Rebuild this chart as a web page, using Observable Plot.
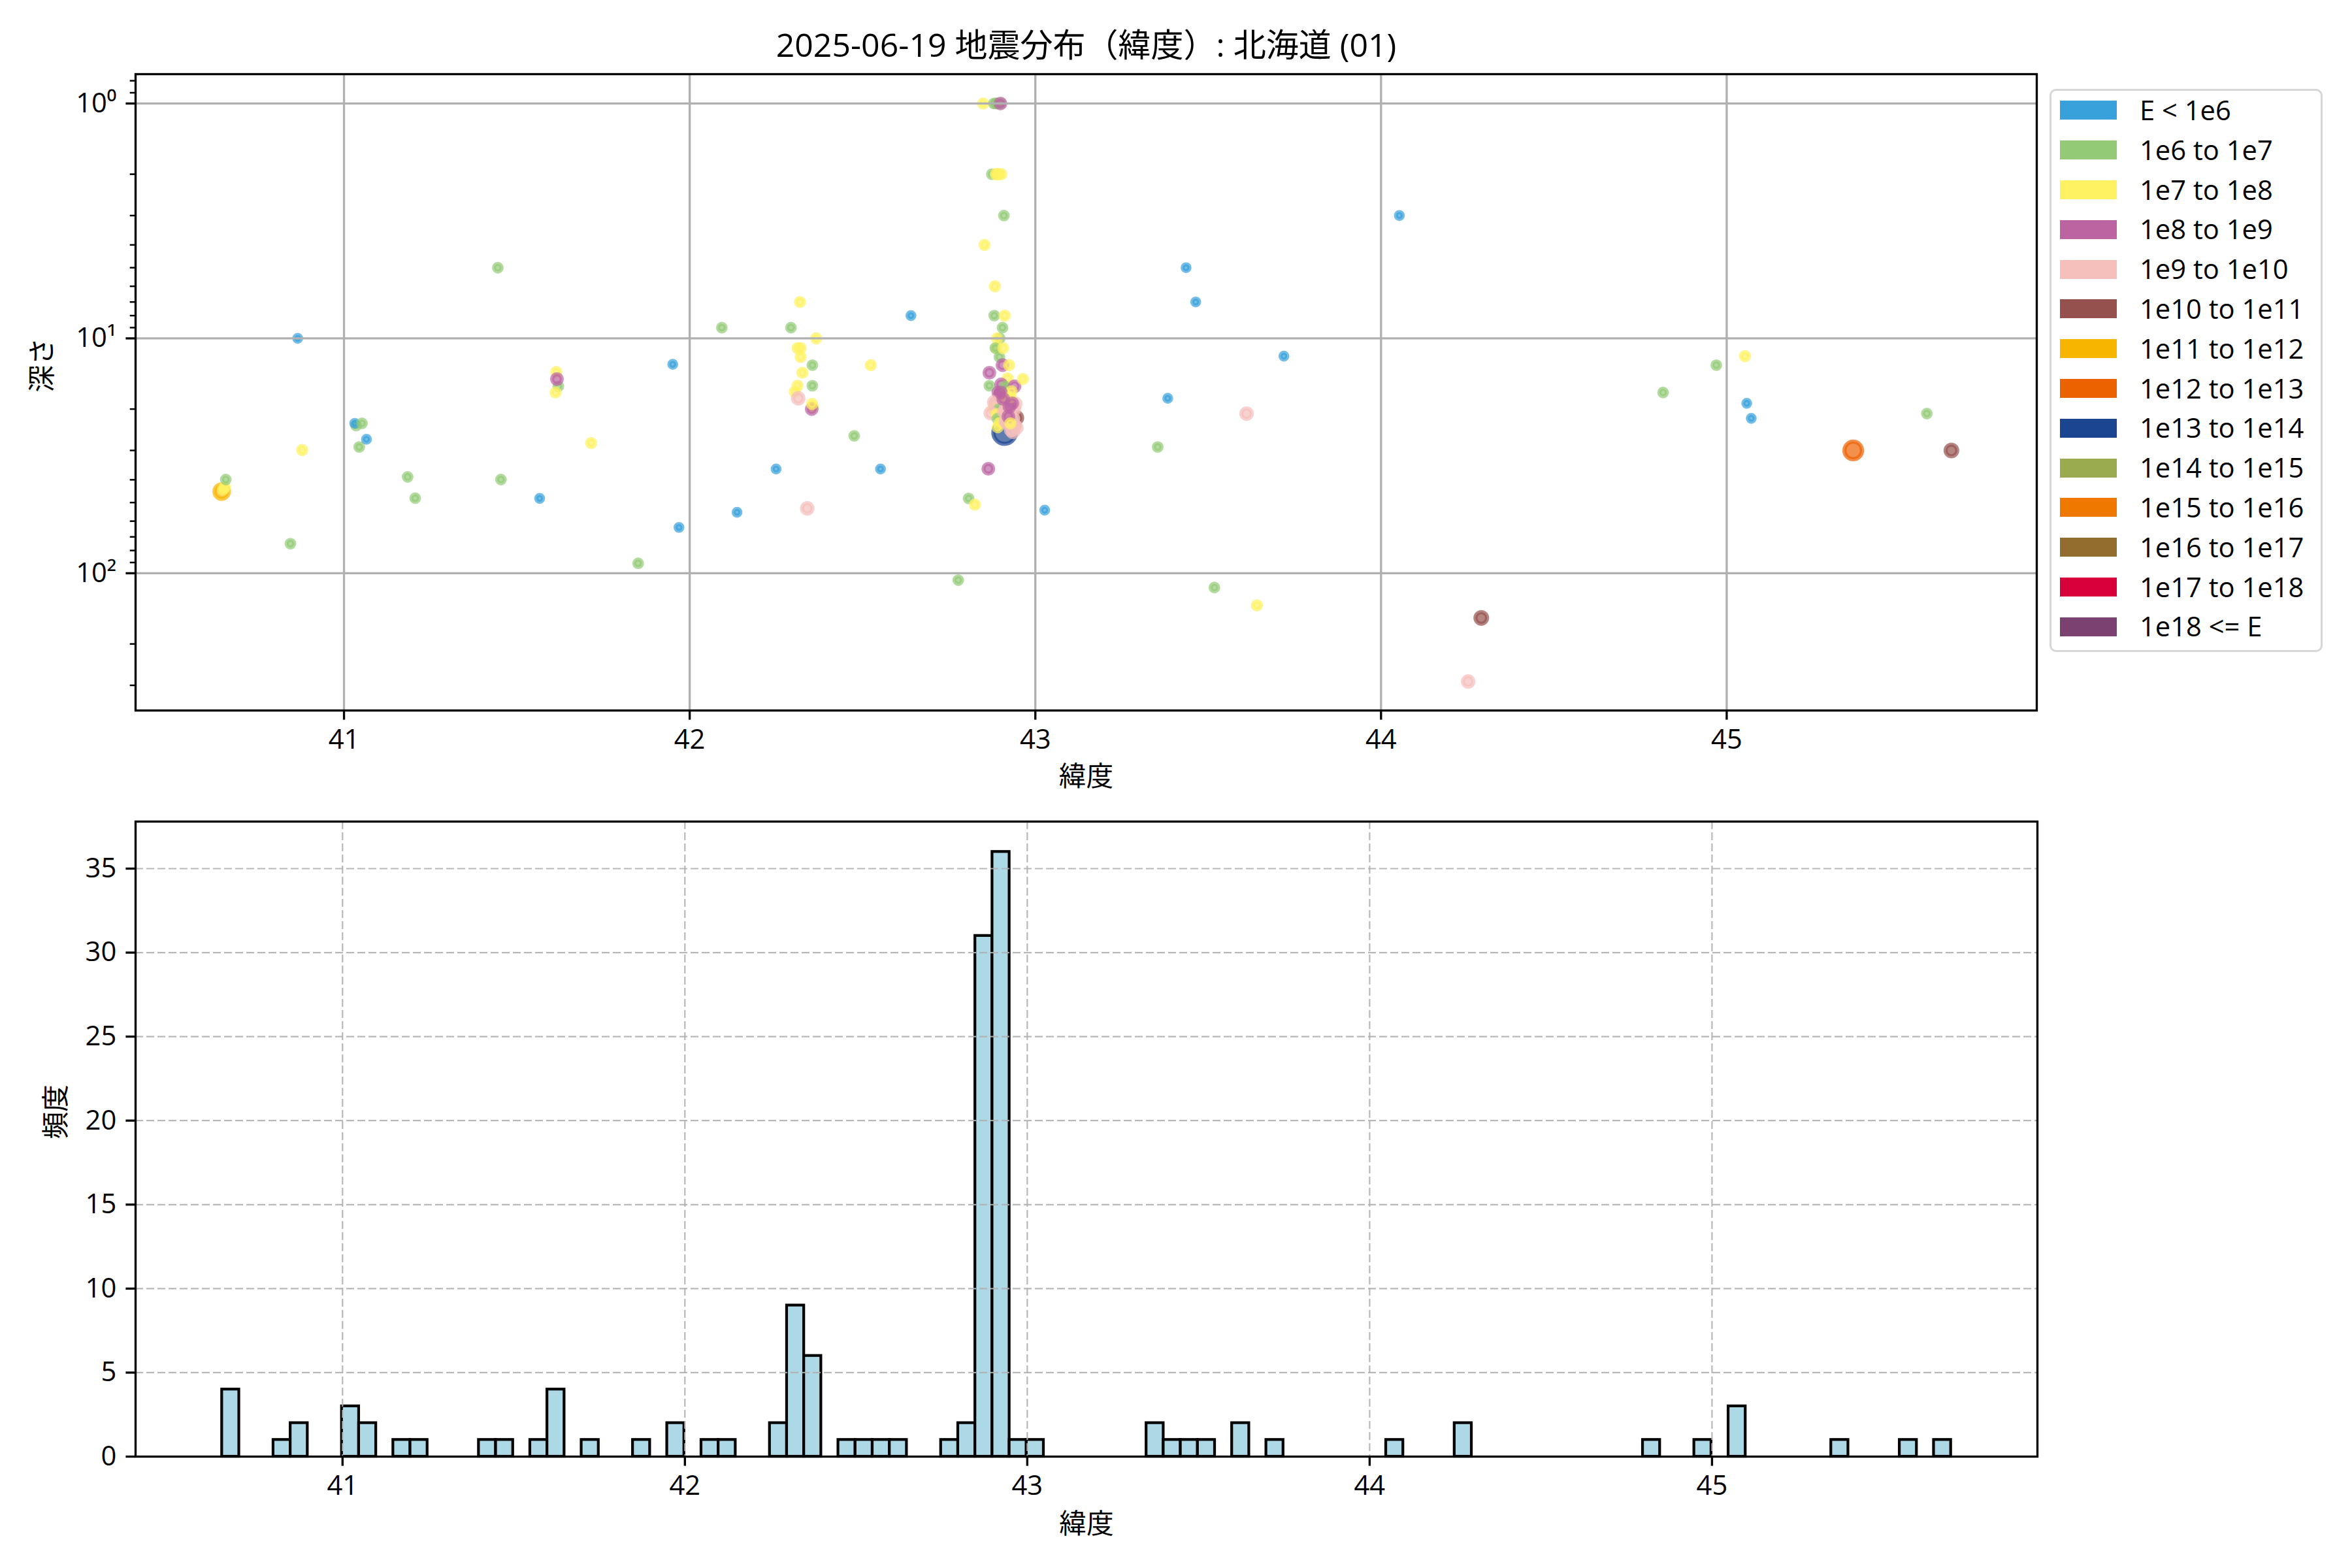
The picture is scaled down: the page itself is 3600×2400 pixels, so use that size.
<!DOCTYPE html>
<html>
<head>
<meta charset="utf-8">
<script src="https://cdn.jsdelivr.net/npm/d3@7"></script>
<script src="https://cdn.jsdelivr.net/npm/@observablehq/plot@0.6"></script>
<style>
  body { margin: 0; background: white; }
  #fig { position: relative; width: 3600px; height: 2400px; background: white; overflow: hidden;
         font-family: "Open Sans", "Noto Sans CJK JP", sans-serif; color: black; }
  .abs { position: absolute; }
</style>
</head>
<body>
<div id="fig"></div>
<script>
// ---------------- DATA ----------------
const titleText = "2025-06-19 地震分布（緯度）: 北海道 (01)";
const xLabel = "緯度";
const yLabelTop = "深さ";
const yLabelHist = "頻度";

// energy classes (legend)
const classLabels = ["E < 1e6", "1e6 to 1e7", "1e7 to 1e8", "1e8 to 1e9", "1e9 to 1e10", "1e10 to 1e11",
  "1e11 to 1e12", "1e12 to 1e13", "1e13 to 1e14", "1e14 to 1e15", "1e15 to 1e16", "1e16 to 1e17",
  "1e17 to 1e18", "1e18 <= E"];
const classColors = ["#38A1DB", "#93CA76", "#FFF262", "#BC64A2", "#F5BFBC", "#95514D",
  "#F8B500", "#EC6100", "#1B4590", "#9AAA4F", "#EE7800", "#936D2D", "#D7003A", "#7A4171"];

// events: latitude, depth (km), energy class index
const lat = [
  42.911,
  40.646, 40.655, 40.650, 40.658,
  40.845, 40.866, 40.879,
  41.035, 41.031, 41.044, 41.052, 41.065,
  41.184, 41.206, 41.445, 41.454, 41.566,
  41.614, 41.620, 41.612, 41.616,
  41.715, 41.851, 41.951, 41.969, 42.093, 42.137,
  42.250, 42.293,
  42.319, 42.312, 42.321, 42.321, 42.326, 42.312, 42.304, 42.314, 42.340,
  42.366, 42.355, 42.355, 42.356, 42.353, 42.354,
  42.476, 42.524, 42.552, 42.640, 42.777, 42.807, 42.825,
  42.849, 42.885, 42.880, 42.888,
  42.874, 42.890, 42.886, 42.894,
  42.853, 42.883, 42.881, 42.897, 42.889,
  42.887, 42.884, 42.896, 42.867, 42.867,
  42.893, 42.897, 42.892, 42.885, 42.878,
  42.881, 42.895, 42.871, 42.888, 42.890, 42.896, 42.891, 42.864,
  42.900, 42.899, 42.902, 42.909,
  42.911, 42.905, 42.907, 42.905, 42.924, 42.920,
  42.945,
  42.915, 42.925, 42.935, 42.940, 42.920, 42.930, 42.945, 42.910, 42.938, 42.915, 42.935, 42.942,
  42.918, 42.925, 42.922, 42.928,
  42.901, 42.912, 42.940, 42.931, 42.900, 42.929, 42.907, 42.933,
  42.964, 43.027, 43.354, 43.383, 43.436, 43.464, 43.518, 43.611, 43.641, 43.719,
  44.053, 44.252, 44.290, 44.816, 44.970, 45.053, 45.058, 45.071, 45.366, 45.579, 45.650
];
const depth = [
  25.2,
  44.9, 43.0, 44.0, 39.9,
  74.8, 10.0, 29.9,
  23.5, 23.0, 29.0, 23.0, 26.9,
  38.9, 47.9, 5.0, 39.9, 48.0,
  13.9, 16.0, 17.0, 14.9,
  27.9, 90.7, 12.9, 63.8, 9.0, 55.0,
  36.0, 9.0,
  7.0, 11.0, 11.0, 12.0, 14.0, 15.9, 16.9, 18.0, 52.9,
  10.0, 13.0, 15.9, 19.6, 20.0, 19.0,
  26.0, 13.0, 36.0, 8.0, 107, 48, 51,
  1.0, 1.0, 1.0, 1.0,
  2.0, 2.0, 2.0, 2.0,
  4.0, 6.0, 8.0, 10.0, 10.0,
  11.0, 11.0, 12.0, 14.0, 15.9,
  17.0, 17.5, 19.5, 19.0, 20.0,
  18.7, 20.0, 20.8, 21.0, 22.0, 23.0, 23.9, 35.9,
  1.0, 1.0, 2.0, 3.0,
  8.0, 9.0, 11.0, 13.0, 13.0, 14.8,
  21.8,
  20.0, 21.0, 22.0, 23.5, 23.0, 24.5, 24.0, 20.5, 20.0, 22.5, 25.0, 19.0,
  18.0, 19.5, 21.5, 23.0,
  15.7, 16.0, 16.0, 16.8, 17.0, 17.8, 18.1, 18.9,
  14.9, 53.9, 29, 18, 5.0, 7.0, 115, 20.9, 137, 11.9,
  3.0, 289, 155, 17, 13, 11.9, 18.9, 21.9, 30, 20.9, 30
];
const energyClass = [
  8,
  6, 2, 2, 1,
  1, 0, 2,
  1, 0, 1, 1, 0,
  1, 1, 1, 1, 0,
  2, 1, 2, 3,
  2, 1, 0, 0, 1, 0,
  0, 1,
  2, 2, 2, 2, 2, 2, 2, 4, 4,
  2, 1, 1, 2, 3, 2,
  1, 2, 0, 0, 1, 1, 2,
  2, 1, 1, 1,
  1, 2, 2, 2,
  2, 2, 1, 1, 2,
  2, 1, 1, 3, 1,
  3, 3, 2, 4, 2,
  4, 1, 4, 2, 1, 2, 2, 3,
  1, 3, 2, 1,
  2, 1, 2, 3, 2, 2,
  5,
  4, 4, 4, 4, 4, 4, 4, 4, 4, 4, 4, 4,
  2, 3, 3, 2,
  3, 1, 3, 2, 3, 2, 3, 3,
  2, 0, 1, 0, 0, 0, 1, 4, 2, 0,
  0, 4, 5, 1, 1, 2, 0, 0, 7, 1, 5
];

// histogram (latitude bins)
const binStart = 40.648;
const binWidth = 0.05;
const histBin = [0, 3, 4, 7, 8, 10, 11, 15, 16, 18, 19, 21, 24, 26, 28, 29, 32, 33, 34, 36, 37, 38, 39,
  42, 43, 44, 45, 46, 47, 54, 55, 56, 57, 59, 61, 68, 72, 83, 86, 88, 94, 98, 100];
const histCount = [4, 1, 2, 3, 2, 1, 1, 1, 1, 1, 4, 1, 1, 2, 1, 1, 2, 9, 6, 1, 1, 1, 1,
  1, 2, 31, 36, 1, 1, 2, 1, 1, 1, 2, 1, 1, 2, 1, 1, 3, 1, 1, 1];

// ticks
const latTicks = [41, 42, 43, 44, 45];
const depthTicks = [1, 10, 100];
const depthTickLabels = ["10⁰", "10¹", "10²"];
const countTicks = [0, 5, 10, 15, 20, 25, 30, 35];

(function () {
// ---------------- STYLE ----------------
const FONT = '"Open Sans", "Noto Sans CJK JP", sans-serif';
const FS = 41.7;
const classRadius = [5.2, 5.8, 6.2, 7.4, 8.0, 8.9, 11.1, 13.5, 17.2, 19, 21, 23, 25, 27];
const LW = 3.33;

const points = lat.map((x, i) => ({lat: x, depth: depth[i], cls: energyClass[i]}));
const hist = histBin.map((b, i) => ({x1: binStart + b * binWidth, x2: binStart + (b + 1) * binWidth, count: histCount[i]}));

const minorTicks = [];
for (let k = -1; k <= 2; k++) for (let m = 2; m <= 9; m++) {
  const v = m * Math.pow(10, k);
  if (v >= 0.75 && v <= 384) minorTicks.push(v);
}

const fig = document.getElementById("fig");

// ---------------- TOP: scatter ----------------
const topPlot = Plot.plot({
  width: 3600, height: 1230,
  marginTop: 113, marginLeft: 207, marginRight: 483, marginBottom: 143,
  style: {background: "transparent", fontFamily: FONT, fontSize: FS + "px", color: "black", overflow: "visible"},
  x: {domain: [40.397, 45.897]},
  y: {type: "log", domain: [0.75, 384], reverse: true},
  color: {type: "ordinal", domain: d3.range(classLabels.length), range: classColors},
  r: {type: "identity"},
  marks: [
    Plot.dot(points, {x: "lat", y: "depth", r: d => classRadius[d.cls], fill: "cls", stroke: "cls",
      fillOpacity: 0.7, strokeOpacity: 0.7, strokeWidth: 6.25, sort: null}),
    Plot.gridX(latTicks, {stroke: "#b0b0b0", strokeOpacity: 1, strokeWidth: LW}),
    Plot.gridY(depthTicks, {stroke: "#b0b0b0", strokeOpacity: 1, strokeWidth: LW}),
    Plot.frame({stroke: "black", strokeWidth: LW}),
    Plot.axisX(latTicks, {tickSize: 14.6, tickPadding: 14.6, strokeWidth: LW, label: null, tickFormat: d => String(d), fontSize: FS}),
    Plot.axisY(depthTicks, {tickSize: 14.6, tickPadding: 14.6, strokeWidth: LW, label: null,
      tickFormat: d => depthTickLabels[depthTicks.indexOf(d)], fontSize: FS}),
    Plot.axisY(minorTicks, {tickSize: 8.3, strokeWidth: 2.5, label: null, tickFormat: () => ""}),
    Plot.text([titleText], {frameAnchor: "top", dy: -43, fontSize: 50, lineAnchor: "middle"}),
    Plot.text([yLabelTop], {frameAnchor: "left", dx: -141.5, rotate: -90, lineAnchor: "middle", fontSize: FS}),
    Plot.text([xLabel], {frameAnchor: "bottom", dy: 102, lineAnchor: "middle", fontSize: FS})
  ]
});
topPlot.style.position = "absolute"; topPlot.style.left = "0px"; topPlot.style.top = "0px";
fig.appendChild(topPlot);

// ---------------- BOTTOM: histogram ----------------
const histPlot = Plot.plot({
  width: 3600, height: 1170,
  marginTop: 27, marginLeft: 207, marginRight: 482, marginBottom: 171,
  style: {background: "transparent", fontFamily: FONT, fontSize: FS + "px", color: "black", overflow: "visible"},
  x: {domain: [40.3955, 45.9505]},
  y: {domain: [0, 37.8]},
  marks: [
    Plot.rect(hist, {x1: "x1", x2: "x2", y1: 0, y2: "count", fill: "#ADD8E6", stroke: "black", strokeWidth: 4.2, inset: 0}),
    Plot.gridX(latTicks, {stroke: "#b0b0b0", strokeOpacity: 0.9, strokeWidth: 2.2, strokeDasharray: "12,5"}),
    Plot.gridY(countTicks.slice(1), {stroke: "#b0b0b0", strokeOpacity: 0.9, strokeWidth: 2.2, strokeDasharray: "12,5"}),
    Plot.frame({stroke: "black", strokeWidth: LW}),
    Plot.axisX(latTicks, {tickSize: 14.6, tickPadding: 14.6, strokeWidth: LW, label: null, tickFormat: d => String(d), fontSize: FS}),
    Plot.axisY(countTicks, {tickSize: 14.6, tickPadding: 14.6, strokeWidth: LW, label: null, tickFormat: d => String(d), fontSize: FS}),
    Plot.text([yLabelHist], {frameAnchor: "left", dx: -121, rotate: -90, lineAnchor: "middle", fontSize: FS}),
    Plot.text([xLabel], {frameAnchor: "bottom", dy: 104, lineAnchor: "middle", fontSize: FS})
  ]
});
histPlot.style.position = "absolute"; histPlot.style.left = "0px"; histPlot.style.top = "1230px";
fig.appendChild(histPlot);

// ---------------- LEGEND ----------------
const box = document.createElement("div");
box.className = "abs";
Object.assign(box.style, {left: "3137px", top: "136px", width: "418px", height: "862px",
  border: "3.3px solid #d6d6d6", borderRadius: "10px", boxSizing: "border-box", background: "white"});
fig.appendChild(box);
classLabels.forEach((lab, i) => {
  const cy = 168.8 + 60.8 * i;
  const sw = document.createElement("div");
  sw.className = "abs";
  Object.assign(sw.style, {left: "3153px", top: (cy - 14.5) + "px", width: "87px", height: "29px", background: classColors[i]});
  fig.appendChild(sw);
  const tx = document.createElement("div");
  tx.className = "abs";
  tx.textContent = lab;
  Object.assign(tx.style, {left: "3275px", top: (cy - FS * 0.62) + "px", fontSize: FS + "px", lineHeight: (FS * 1.2) + "px", whiteSpace: "nowrap"});
  fig.appendChild(tx);
});
})();
</script>
</body>
</html>
